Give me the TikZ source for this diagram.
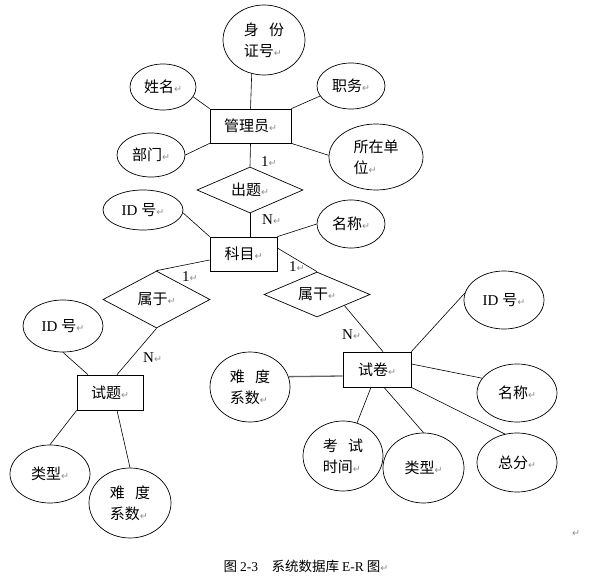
\documentclass[tikz,border=0pt]{standalone}
\usepackage{fontspec}
\setmainfont{Noto Sans CJK SC}
\newfontfamily\tnr{Liberation Serif}
\newfontfamily\dejavu{DejaVu Sans}
\usetikzlibrary{shapes.geometric,calc}
\newcommand\rmk{{\dejavu\fontsize{9.5}{9.5}\selectfont\textcolor{gray!90}{↵}}}
\tikzset{
  ent/.style={draw, rectangle, line width=0.7pt, inner sep=0pt},
  attr/.style={draw, ellipse, line width=0.7pt, inner sep=0pt},
  rel/.style={draw, diamond, line width=0.7pt, inner sep=0pt},
  txt/.style={font=\fontsize{15}{21}\selectfont, align=left, inner sep=0pt},
  card/.style={font=\tnr\fontsize{15}{15}\selectfont, inner sep=0pt, anchor=west},
  conn/.style={line width=0.6pt},
  thickconn/.style={line width=1.3pt, draw=gray!80!black}
}
\begin{document}
\begin{tikzpicture}[x=1pt,y=-1pt]
\fill[white] (0,0) rectangle (606,586);
\useasboundingbox (0,0) rectangle (606,586);

% entities
\node[ent, minimum width=81pt, minimum height=34pt] (mgr) at (250.5,126) {};
\node[ent, minimum width=67pt, minimum height=34pt] (km) at (243.5,254) {};
\node[ent, minimum width=68pt, minimum height=35pt] (sj) at (377,369.5) {};
\node[ent, minimum width=66pt, minimum height=35pt] (st) at (110,392.5) {};
\node[txt] (mgrT) at (mgr) {管理员\rmk};
\node[txt] (kmT) at (km) {科目\rmk};
\node[txt] (sjT) at (sj) {试卷\rmk};
\node[txt] (stT) at (st) {试题\rmk};

% relations
\node[rel, minimum width=106pt, minimum height=46pt] (ct) at (250,190) {};
\node[rel, minimum width=107pt, minimum height=57pt] (sy1) at (156.5,299.5) {};
\node[rel, minimum width=106pt, minimum height=45pt] (sy2) at (317,294.5) {};
\node[txt] (ctT) at (ct) {出题\rmk};
\node[txt] (sy1T) at (sy1) {属于\rmk};
\node[txt] (sy2T) at (sy2) {属干\rmk};

% attributes
\node[attr, minimum width=82pt, minimum height=70pt] (sfz) at (264,40) {};
\node[attr, minimum width=66pt, minimum height=46pt] (xm) at (163,87) {};
\node[attr, minimum width=68pt, minimum height=46pt] (zw) at (351,86) {};
\node[attr, minimum width=68pt, minimum height=44pt] (bm) at (151,155) {};
\node[attr, minimum width=94pt, minimum height=66pt] (szdw) at (376,157) {};
\node[attr, minimum width=80pt, minimum height=40pt] (id1) at (143,210) {};
\node[attr, minimum width=68pt, minimum height=48pt] (mc1) at (351,224) {};
\node[attr, minimum width=80pt, minimum height=58pt] (id2) at (504,300) {};
\node[attr, minimum width=80pt, minimum height=58pt] (mc2) at (517,393) {};
\node[attr, minimum width=80pt, minimum height=70pt] (nd2) at (250,387) {};
\node[attr, minimum width=80pt, minimum height=70pt] (kssj) at (343,456) {};
\node[attr, minimum width=81pt, minimum height=70pt] (lx2) at (423.5,468) {};
\node[attr, minimum width=80pt, minimum height=59pt] (zf) at (517,462.5) {};
\node[attr, minimum width=80pt, minimum height=52pt] (id3) at (63,326) {};
\node[attr, minimum width=80pt, minimum height=58pt] (lx3) at (50,474) {};
\node[attr, minimum width=82pt, minimum height=70pt] (nd3) at (130,503) {};

\node[txt] (sfzT) at (sfz) {身\hspace{0.7em}份\\证号\rmk};
\node[txt] (xmT) at (xm) {姓名\rmk};
\node[txt] (zwT) at (zw) {职务\rmk};
\node[txt] (bmT) at (bm) {部门\rmk};
\node[txt] (szdwT) at (szdw) {所在单\\位\rmk};
\node[txt] (id1T) at (id1) {{\tnr ID }号\rmk};
\node[txt] (mc1T) at (mc1) {名称\rmk};
\node[txt] (id2T) at (id2) {{\tnr ID }号\rmk};
\node[txt] (mc2T) at (mc2) {名称\rmk};
\node[txt] (nd2T) at (nd2) {难\hspace{0.7em}度\\系数\rmk};
\node[txt] (kssjT) at (kssj) {考\hspace{0.7em}试\\时间\rmk};
\node[txt] (lx2T) at (lx2) {类型\rmk};
\node[txt] (zfT) at (zf) {总分\rmk};
\node[txt] (id3T) at (id3) {{\tnr ID }号\rmk};
\node[txt] (lx3T) at (lx3) {类型\rmk};
\node[txt] (nd3T) at (nd3) {难\hspace{0.7em}度\\系数\rmk};

% connectors
\draw[conn] (sfz.250) -- (mgr.north);
\draw[conn] (xm.342) -- (mgr.north west);
\draw[conn] (zw.198) -- (mgr.north east);
\draw[conn] (bm.east) -- (mgr.south west);
\draw[conn] (szdw.178) -- (mgr.south east);
\draw[conn] (mgr.south) -- (ct.north);
\draw[conn] (ct.south) -- (ct.south |- km.north);
\draw[conn] (id1.356) -- (km.north west);
\draw[conn] (mc1.west) -- (km.north east);
\draw[conn] ([yshift=-6pt]km.west) -- (sy1.north);
\draw[conn] ([yshift=6pt]km.east) -- (sy2.north);
\draw[conn] (sy1.south) -- ([xshift=7pt]st.north);
\draw[conn] (sy2.338) -- ([xshift=6pt]sj.north);
\draw[conn] (id3.south) -- ([xshift=-22pt]st.north);
\draw[conn] (lx3.north) -- (st.south west);
\draw[conn] (nd3.north) -- ([xshift=7pt]st.south);
\draw[conn] (id2.170) -- (sj.north east);
\draw[conn] (mc2.157) -- ([yshift=5.5pt]sj.east);
\draw[thickconn] (nd2.15) -- ([yshift=-6.5pt]sj.west);
\draw[conn] (kssj.67) -- ([xshift=-6pt]sj.south);
\draw[conn] (lx2.north) -- ([xshift=7pt]sj.south);
\draw[conn] (zf.113) -- (sj.south east);

% cardinalities
\node[card] (c1) at (261,162) {1\rmk};
\node[card] (c2) at (262,220) {N\rmk};
\node[card] (c3) at (182,277) {1\rmk};
\node[card] (c4) at (289,267) {1\rmk};
\node[card] (c5) at (342,335) {N\rmk};
\node[card] (c6) at (143,358) {N\rmk};

% caption
\node[txt, font=\fontsize{13.5}{15}\selectfont] (cap) at (306,566) {图 {\tnr 2-3}\hspace{1em}系统数据库 {\tnr E-R} 图\rmk};
\node[inner sep=0pt] (pm) at (576,534) {\rmk};
\end{tikzpicture}
\end{document}
